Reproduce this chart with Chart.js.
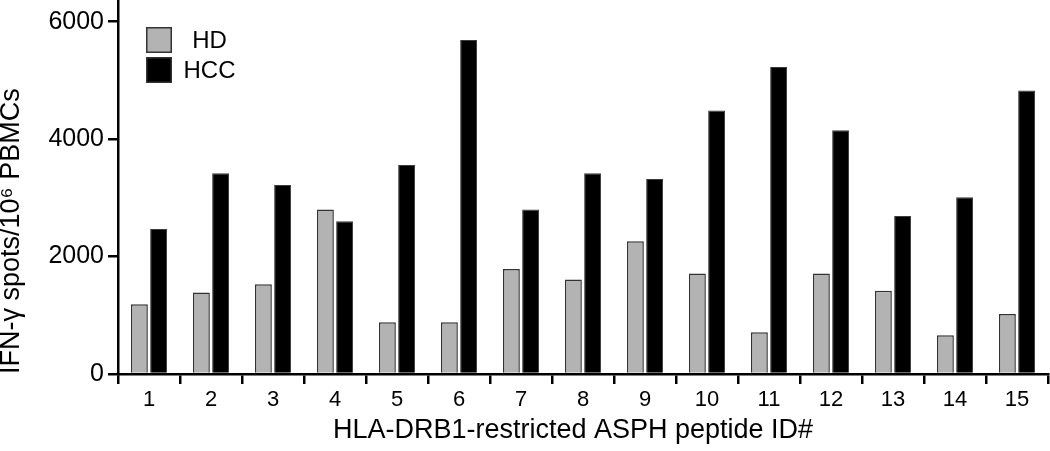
<!DOCTYPE html>
<html>
<head>
<meta charset="utf-8">
<script src="https://cdn.jsdelivr.net/npm/chart.js@4"></script>
<style>
  html, body { margin: 0; padding: 0; background: #fff; }
  #wrap { width: 1050px; height: 451px; position: relative; }
</style>
</head>
<body>
<div id="wrap"><canvas id="c" width="1050" height="451"></canvas></div>
<script>
const categories = ['1','2','3','4','5','6','7','8','9','10','11','12','13','14','15'];
const hdValues  = [1190, 1390, 1530, 2800, 880, 880, 1790, 1610, 2260, 1710, 710, 1710, 1420, 660, 1020];
const hccValues = [2470, 3420, 3220, 2600, 3560, 5690, 2800, 3420, 3320, 4490, 5230, 4150, 2690, 3010, 4830];
const yTickValues = [0, 2000, 4000, 6000];
const seriesNames = ['HD', 'HCC'];
const yTitle = 'IFN-\u03b3 spots/10\u2076 PBMCs';
const xTitle = 'HLA-DRB1-restricted ASPH peptide ID#';

const FONT = '"Liberation Sans", Arial, Helvetica, sans-serif';

const legendPlugin = {
  id: 'insideLegend',
  afterDraw(chart) {
    const ctx = chart.ctx;
    const items = chart.data.datasets;
    ctx.save();
    const boxX = 146, boxY0 = 27, boxS = 26, step = 30;
    items.forEach((ds, i) => {
      const y = boxY0 + i * step;
      ctx.fillStyle = ds.backgroundColor;
      ctx.fillRect(boxX, y, boxS, boxS);
      ctx.lineWidth = 1.5;
      ctx.strokeStyle = '#333';
      ctx.strokeRect(boxX + 0.75, y + 0.75, boxS - 1.5, boxS - 1.5);
      ctx.fillStyle = '#000';
      ctx.font = '24px ' + FONT;
      ctx.textAlign = 'center';
      ctx.textBaseline = 'middle';
      ctx.fillText(ds.label, 209.5, y + boxS / 2 + 1);
    });
    ctx.restore();
  }
};

new Chart(document.getElementById('c'), {
  type: 'bar',
  data: {
    labels: categories,
    datasets: [
      { label: seriesNames[0], data: hdValues, backgroundColor: '#b3b3b3', borderColor: '#333', borderWidth: 1.5 },
      { label: seriesNames[1], data: hccValues, backgroundColor: '#000000', borderColor: '#3a3a3a', borderWidth: 1 }
    ]
  },
  options: {
    responsive: false,
    animation: false,
    devicePixelRatio: 1,
    layout: { padding: { left: 0, right: 2, top: 0, bottom: 0 } },
    datasets: { bar: { categoryPercentage: 0.62, barPercentage: 0.88 } },
    plugins: { legend: { display: false }, tooltip: { enabled: false } },
    scales: {
      x: {
        grid: { display: true, drawOnChartArea: false, drawTicks: true, tickLength: 10, color: '#000', lineWidth: 2.5, offset: true },
        border: { display: true, color: '#000', width: 2.5 },
        ticks: { color: '#000', font: { family: FONT, size: 22 }, padding: 3, maxRotation: 0 },
        title: { display: true, text: xTitle, color: '#000', font: { family: FONT, size: 27 }, padding: { top: 0, bottom: 4 } },
        afterFit(scale) { scale.height = 77; scale.paddingLeft = 0; scale.paddingRight = 0; },
        afterUpdate(scale) {
          if (!scale._shiftPatched) {
            const orig = scale.drawTitle.bind(scale);
            scale.drawTitle = function () {
              this.ctx.save();
              this.ctx.translate(-10, 0);
              orig();
              this.ctx.restore();
            };
            scale._shiftPatched = true;
          }
        }
      },
      y: {
        min: 0, max: 6370,
        grid: { display: true, drawOnChartArea: false, drawTicks: true, tickLength: 10, color: '#000', lineWidth: 2.5 },
        border: { display: true, color: '#000', width: 2.5 },
        ticks: { color: '#000', font: { family: FONT, size: 25 }, padding: 4, callback: (v) => String(v) },
        afterBuildTicks(scale) { scale.ticks = yTickValues.map(v => ({ value: v })); },
        title: { display: true, text: yTitle, align: 'start', color: '#000', font: { family: FONT, size: 27, lineHeight: 0.88 }, padding: { top: 0, bottom: 0 } },
        afterFit(scale) { scale.width = 118; scale.paddingTop = 0; scale.paddingBottom = 0; }
      }
    }
  },
  plugins: [legendPlugin]
});
</script>
</body>
</html>
